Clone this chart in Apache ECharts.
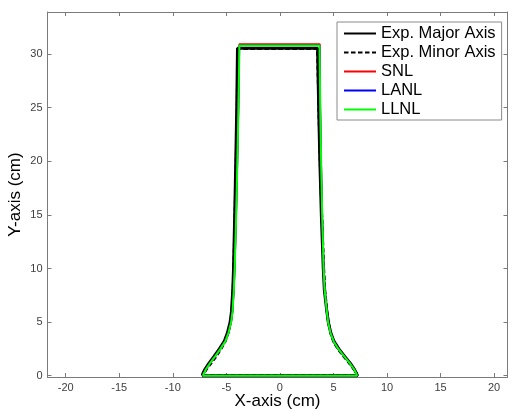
<!DOCTYPE html>
<html>
<head>
<meta charset="utf-8">
<script src="https://cdn.jsdelivr.net/npm/echarts@6/dist/echarts.min.js"></script>
<style>html,body{margin:0;padding:0;background:#fff;}#c{width:508px;height:412px;}</style>
</head>
<body>
<div id="c"></div>
<script>
// ---- data (cm) ----
const seriesNames = ['Exp. Major Axis', 'Exp. Minor Axis', 'SNL', 'LANL', 'LLNL'];
const xTicks = [-20, -15, -10, -5, 0, 5, 10, 15, 20];
const yTicks = [0, 5, 10, 15, 20, 25, 30];

// profile heights (last value = top of shape)
const majorY = [0, 0.2, 0.6, 1.2, 1.8, 2.5, 3.2, 4.0, 5.0, 6.0, 8.0, 10, 15, 20, 25, 30.55];
const majorLeft = [-7.25, -7.2, -7.0, -6.6, -6.15, -5.65, -5.2, -4.9, -4.65, -4.52, -4.4, -4.33, -4.22, -4.12, -4.03, -3.96];
const majorRight = [7.2, 7.15, 6.95, 6.55, 6.05, 5.5, 5.05, 4.75, 4.52, 4.38, 4.15, 4.05, 3.87, 3.73, 3.62, 3.52];

const minorY = [0, 0.2, 0.6, 1.2, 1.8, 2.5, 3.2, 4.0, 5.0, 6.0, 8.0, 10, 15, 20, 25, 30.5];
const minorLeft = [-7.2, -7.1, -6.85, -6.4, -5.95, -5.5, -5.1, -4.82, -4.6, -4.48, -4.38, -4.32, -4.2, -4.1, -4.0, -3.95];
const minorRight = [7.25, 7.18, 6.9, 6.45, 5.95, 5.4, 5.0, 4.72, 4.52, 4.4, 4.2, 4.1, 3.92, 3.75, 3.62, 3.5];

const snlY = [0, 0.2, 0.6, 1.2, 1.8, 2.5, 3.2, 4.0, 5.0, 6.0, 8.0, 10, 15, 20, 25, 30.93];
const snlLeft = [-7.2, -7.1, -6.9, -6.5, -6.05, -5.55, -5.1, -4.8, -4.55, -4.42, -4.3, -4.22, -4.08, -3.97, -3.87, -3.8];
const snlRight = [7.2, 7.13, 6.92, 6.5, 6.0, 5.45, 5.02, 4.72, 4.5, 4.38, 4.18, 4.08, 3.95, 3.85, 3.77, 3.74];

const lanlY = [0, 0.2, 0.6, 1.2, 1.8, 2.5, 3.2, 4.0, 5.0, 6.0, 8.0, 10, 15, 20, 25, 30.83];
const lanlLeft = [-7.2, -7.1, -6.9, -6.5, -6.05, -5.55, -5.1, -4.8, -4.55, -4.42, -4.3, -4.22, -4.08, -3.97, -3.87, -3.78];
const lanlRight = [7.2, 7.13, 6.92, 6.5, 6.0, 5.45, 5.02, 4.72, 4.5, 4.38, 4.18, 4.08, 3.95, 3.85, 3.77, 3.71];

const llnlY = [0, 0.2, 0.6, 1.2, 1.8, 2.5, 3.2, 4.0, 5.0, 6.0, 8.0, 10, 15, 20, 25, 30.8];
const llnlLeft = [-7.2, -7.1, -6.9, -6.5, -6.05, -5.55, -5.1, -4.8, -4.55, -4.42, -4.3, -4.22, -4.08, -3.97, -3.87, -3.78];
const llnlRight = [7.2, 7.13, 6.92, 6.5, 6.0, 5.45, 5.02, 4.72, 4.5, 4.38, 4.18, 4.08, 3.95, 3.85, 3.77, 3.7];

// build closed outline: bottom edge, up right side, across top, down left side
function outline(ys, left, right) {
  const pts = [[left[0], ys[0]], [right[0], ys[0]]];
  for (let i = 1; i < ys.length; i++) pts.push([right[i], ys[i]]);
  for (let i = ys.length - 1; i >= 0; i--) pts.push([left[i], ys[i]]);
  return pts;
}

const chart = echarts.init(document.getElementById('c'), null, {renderer: 'canvas'});
const axisColor = '#7a7a7a';
const labelColor = '#404040';
const font = '"Liberation Sans", Arial, Helvetica, sans-serif';

function mkSeries(name, data, color, width, type, z) {
  return {
    name: name, type: 'line', data: data, symbol: 'none', smooth: false,
    lineStyle: {color: color, width: width, type: type}, itemStyle: {color: color},
    z: z, animation: false, silent: true
  };
}

chart.setOption({
  animation: false,
  backgroundColor: '#fff',
  grid: {left: 47.5, top: 12, right: 0.5, bottom: 35, containLabel: false, outerBoundsMode: 'none'},
  legend: {
    orient: 'vertical', left: 337, top: 22,
    data: seriesNames,
    itemWidth: 32, itemHeight: 14, itemGap: 2,
    padding: [3, 6, 2, 6],
    backgroundColor: '#fff', borderColor: '#8a8a8a', borderWidth: 1,
    textStyle: {fontSize: 16.5, color: '#000', fontFamily: font, padding: [0, 0, 0, 0]},
    itemStyle: {opacity: 0}
  },
  xAxis: [{
    type: 'value', min: -21.7, max: 21.25, position: 'bottom',
    name: 'X-axis (cm)', nameLocation: 'middle', nameGap: 16, nameMoveOverlap: false,
    nameTextStyle: {fontSize: 17, color: '#000', fontFamily: font},
    axisLine: {show: true, onZero: false, lineStyle: {color: axisColor, width: 1}},
    axisTick: {show: true, inside: true, length: 4, customValues: xTicks, lineStyle: {color: axisColor}},
    axisLabel: {show: true, customValues: xTicks, margin: 5, fontSize: 11, color: labelColor, fontFamily: font},
    splitLine: {show: false}
  }, {
    type: 'value', min: -21.7, max: 21.25, position: 'top',
    axisLine: {show: true, onZero: false, lineStyle: {color: axisColor, width: 1}},
    axisTick: {show: true, inside: true, length: 4, customValues: xTicks, lineStyle: {color: axisColor}},
    axisLabel: {show: false},
    splitLine: {show: false}
  }],
  yAxis: [{
    type: 'value', min: -0.12, max: 33.93, position: 'left',
    name: 'Y-axis (cm)', nameLocation: 'middle', nameGap: 24, nameMoveOverlap: false,
    nameTextStyle: {fontSize: 17, color: '#000', fontFamily: font},
    axisLine: {show: true, onZero: false, lineStyle: {color: axisColor, width: 1}},
    axisTick: {show: true, inside: true, length: 4, customValues: yTicks, lineStyle: {color: axisColor}},
    axisLabel: {show: true, customValues: yTicks, margin: 5, fontSize: 11, color: labelColor, fontFamily: font},
    splitLine: {show: false}
  }, {
    type: 'value', min: -0.12, max: 33.93, position: 'right',
    axisLine: {show: true, onZero: false, lineStyle: {color: axisColor, width: 1}},
    axisTick: {show: true, inside: true, length: 4, customValues: yTicks, lineStyle: {color: axisColor}},
    axisLabel: {show: false},
    splitLine: {show: false}
  }],
  series: [
    mkSeries(seriesNames[0], outline(majorY, majorLeft, majorRight), '#000000', 3, 'solid', 2),
    mkSeries(seriesNames[1], outline(minorY, minorLeft, minorRight), '#000000', 2.6, [4.5, 2.5], 3),
    mkSeries(seriesNames[2], outline(snlY, snlLeft, snlRight), '#ff0000', 1.6, 'solid', 4),
    mkSeries(seriesNames[3], outline(lanlY, lanlLeft, lanlRight), '#0000ff', 1.6, 'solid', 5),
    mkSeries(seriesNames[4], outline(llnlY, llnlLeft, llnlRight), '#00ff00', 2, 'solid', 6)
  ]
});
</script>
</body>
</html>
